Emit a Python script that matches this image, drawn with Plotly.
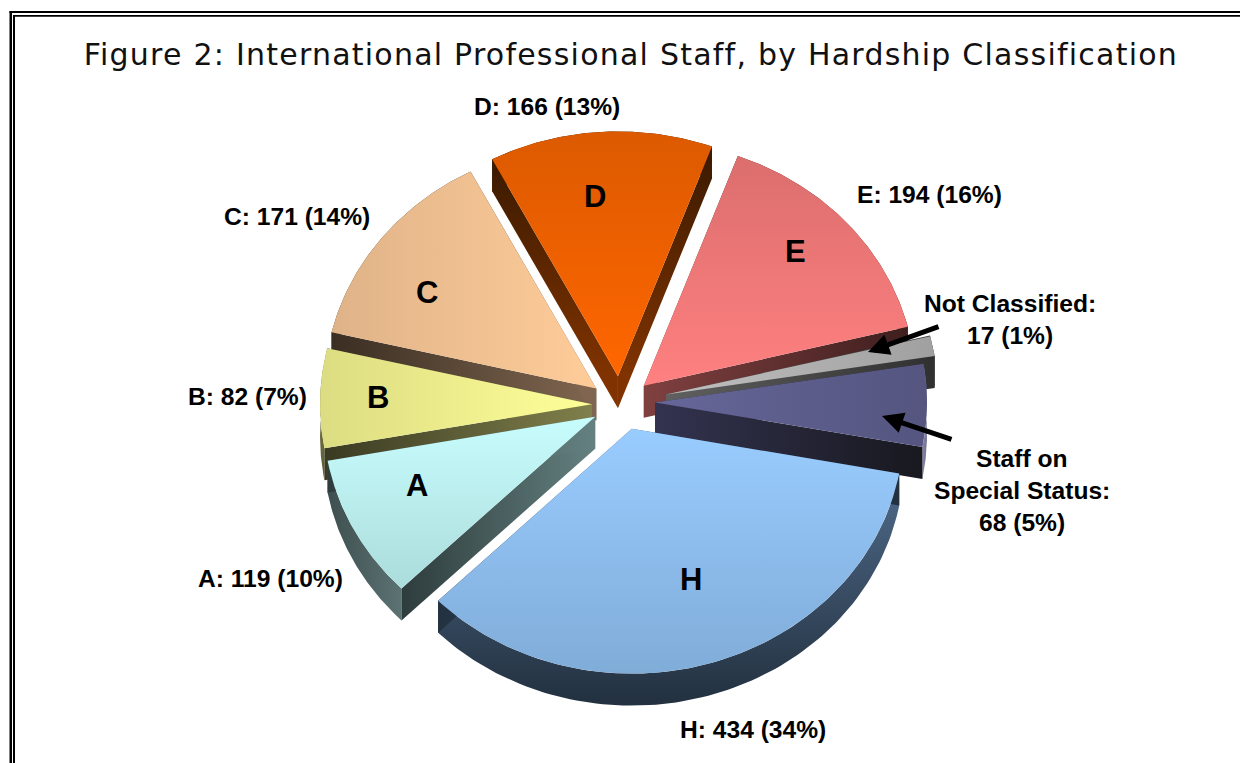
import numpy as np
import plotly.graph_objects as go

# ---- data ----
categories = ["A", "B", "C", "D", "E", "Not Classified", "Staff on Special Status", "H"]
staff = [119, 82, 171, 166, 194, 17, 68, 434]
percents = [10, 7, 14, 13, 16, 1, 5, 34]
title_text = "Figure 2: International Professional Staff, by Hardship Classification"

# ---- geometry and style ----
W, H = 1240, 763
CX, CY, R, SQUASH, DEPTH = 620, 405, 272, 0.9, 32
START_DEG = 225.4  # clockwise from 12 o'clock, where slice A starts
pull_px = [28, 28, 30, 32, 32, 47, 35, 30]
nudge_xy = [(0, 0), (0, 0), (0, 0), (0, 0), (0, 0), (0, -2), (0, -3), (3, -2)]
paint_order = [3, 2, 4, 5, 1, 6, 0, 7]
top_fill = [
    ("vertical", "#c8fdfd", "#acdcdc"),
    ("horizontal", "#dcdc82", "#ffff99"),
    ("horizontal", "#dfb388", "#ffcc99"),
    ("vertical", "#dc5a00", "#ff6600"),
    ("vertical", "#dc6e6e", "#ff8080"),
    ("horizontal", "#c0c0c0", "#a0a0a0"),
    ("horizontal", "#666699", "#555580"),
    ("vertical", "#99ccff", "#80acd8"),
]
rim_fill = [
    ("horizontal", "#3e4f4f", "#5c7273"),
    ("vertical", "#8a8a50", "#5a5a34"),
    ("horizontal", "#3a2e22", "#3a2e22"),
    ("horizontal", "#3a1a00", "#3a1a00"),
    ("horizontal", "#401f1f", "#401f1f"),
    ("horizontal", "#303030", "#303030"),
    ("horizontal", "#8585a8", "#6f6f90"),
    ("vertical", "#506b8a", "#22303f"),
]
cut_apex = ["#648080", "#80804c", "#806650", "#803300", "#804040", "#606060", "#333350", "#4a6584"]
cut_outer = ["#2e3c3c", "#3a3a22", "#3a2e22", "#3a1a00", "#401f1f", "#303030", "#18181f", "#22303f"]

label_xy = [(270, 578), (247, 396), (297, 216), (547, 106), (929, 194), None, None, (753, 729)]
letter_xy = [(417, 485), (378, 397), (427, 292), (595, 196), (795, 251), None, None, (691, 579)]


def pt(theta, radius):
    return radius * np.sin(theta), -radius * SQUASH * np.cos(theta)


def poly(xs, ys, kind, c_low, c_high, low=None, high=None):
    xs, ys = np.asarray(xs, float), np.asarray(ys, float)
    coord = xs if kind == "horizontal" else ys
    return go.Scatter(
        x=np.r_[xs, xs[0]], y=np.r_[ys, ys[0]], mode="lines", fill="toself",
        line=dict(width=0), hoverinfo="skip", showlegend=False,
        fillgradient=dict(
            type=kind, colorscale=[[0, c_low], [1, c_high]],
            start=float(coord.min() if low is None else low),
            stop=float(coord.max() if high is None else high),
        ),
    )


def cut_face(ax, ay, ox, oy, c_apex, c_outer):
    xs = [ax, ox, ox, ax]
    ys = [ay, oy, oy + DEPTH, ay + DEPTH]
    kind = "vertical" if abs(oy - ay) > abs(ox - ax) else "horizontal"
    a, o = (ay, oy) if kind == "vertical" else (ax, ox)
    return poly(xs, ys, kind, *((c_apex, c_outer) if a < o else (c_outer, c_apex)), min(a, o), max(a, o))


total = sum(staff)
spans = np.radians(np.array(staff) / total * 360)
starts = np.radians(START_DEG) + np.r_[0, np.cumsum(spans)[:-1]]

fig = go.Figure()
for i in paint_order:
    t0, t1 = starts[i], starts[i] + spans[i]
    mid = (t0 + t1) / 2
    dx, dy = pt(mid, pull_px[i])
    ax, ay = CX + dx + nudge_xy[i][0], CY + dy + nudge_xy[i][1]
    th = np.linspace(t0, t1, 90)
    ex, ey = pt(th, R)
    ex, ey = ax + ex, ay + ey
    # outer rim
    kind, c0, c1 = rim_fill[i]
    fig.add_trace(poly(np.r_[ex, ex[::-1]], np.r_[ey, ey[::-1] + DEPTH], kind, c0, c1))
    # two cut faces
    fig.add_trace(cut_face(ax, ay, ex[0], ey[0], cut_apex[i], cut_outer[i]))
    fig.add_trace(cut_face(ax, ay, ex[-1], ey[-1], cut_apex[i], cut_outer[i]))
    # top surface
    kind, c0, c1 = top_fill[i]
    fig.add_trace(poly(np.r_[ax, ex], np.r_[ay, ey], kind, c0, c1))

BOLD = dict(family="Liberation Sans", color="black", weight=700)
ann = []


def text(x, y, s, size, family=None):
    f = dict(BOLD, size=size)
    if family:
        f = dict(family=family, size=size, color="#111111")
    ann.append(dict(x=x, y=y, xref="x", yref="y", text=s, showarrow=False,
                    font=f, xanchor="center", yanchor="middle"))


LABEL_SIZE = 24.6
for i, cat in enumerate(categories):
    if label_xy[i]:
        text(*label_xy[i], f"{cat}: {staff[i]} ({percents[i]}%)", LABEL_SIZE)
        text(*letter_xy[i], cat, 31)

text(1010, 303, f"{categories[5]}:", LABEL_SIZE)
text(1010, 335, f"{staff[5]} ({percents[5]}%)", LABEL_SIZE)
text(1022, 458, "Staff on", LABEL_SIZE)
text(1022, 490, "Special Status:", LABEL_SIZE)
text(1022, 522, f"{staff[6]} ({percents[6]}%)", LABEL_SIZE)
text(631, 54, title_text, 30, "DejaVu Sans")

for hx, hy, tx, ty in [(868, 352, 940, 326), (882, 416, 953, 440)]:
    ann.append(dict(x=hx, y=hy, ax=tx, ay=ty, xref="x", yref="y", axref="x", ayref="y",
                    text="", showarrow=True, arrowhead=2, arrowsize=0.85, arrowwidth=5,
                    arrowcolor="black"))

frame = [(9.5, 11, W, 13), (9.5, 11, 12, H), (13, 15, W, 16.7), (13, 15, 15, H)]
shapes = [dict(type="rect", xref="x", yref="y", x0=a, y0=b, x1=c, y1=d,
               fillcolor="black", line=dict(width=0), layer="above") for a, b, c, d in frame]

fig.update_layout(
    width=W, height=H, autosize=False, margin=dict(l=0, r=0, t=0, b=0),
    paper_bgcolor="white", plot_bgcolor="white", showlegend=False,
    xaxis=dict(range=[0, W], visible=False, fixedrange=True),
    yaxis=dict(range=[H, 0], visible=False, fixedrange=True),
    annotations=ann, shapes=shapes,
)
post = """
document.body.style.margin = '0';
document.documentElement.style.overflow = 'hidden';
document.querySelectorAll('.annotation-text').forEach(function (t) {
  if (t.textContent.indexOf('Figure 2') === 0) { t.style.letterSpacing = '1.23px'; }
});
"""
fig.write_html("out.html", config=dict(displayModeBar=False), post_script=post)
